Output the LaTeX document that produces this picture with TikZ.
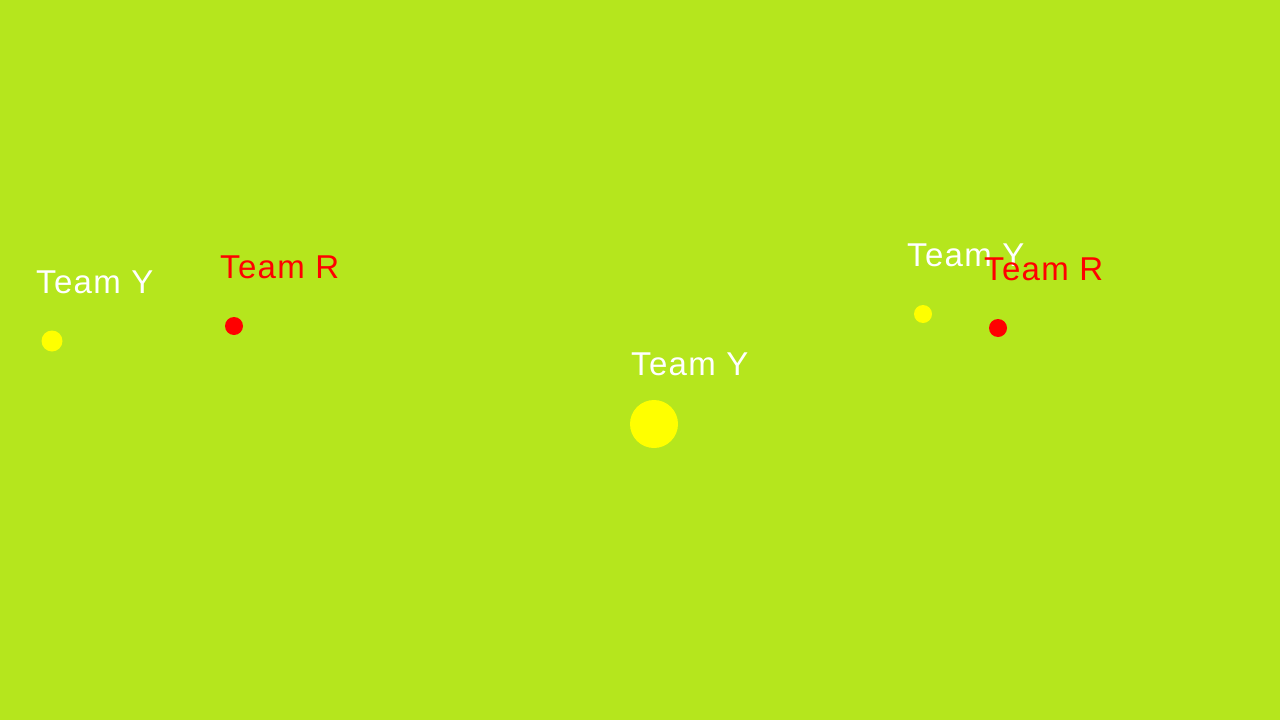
\documentclass[tikz,border=0pt]{standalone}
\usepackage{fontspec}
\setmainfont{Liberation Sans}[LetterSpace=4]
\definecolor{field}{RGB}{181,230,29}
\definecolor{teamyellow}{RGB}{255,255,0}
\definecolor{teamred}{RGB}{255,0,0}
\tikzset{
  lbl/.style={anchor=base west, inner sep=0pt, font=\fontsize{33}{40}\selectfont},
  ylbl/.style={lbl, text=white},
  rlbl/.style={lbl, text=teamred},
  dot/.style={circle, inner sep=0pt, minimum size=#1},
  ydot/.style={dot=#1, fill=teamyellow},
  rdot/.style={dot=#1, fill=teamred}
}
\begin{document}
\begin{tikzpicture}[x=1pt,y=-1pt]
\fill[field] (0,0) rectangle (1280,720);
\useasboundingbox (0,0) rectangle (1280,720);
\node[ylbl] (y1) at (36,293) {Team Y};
\node[ydot=21pt] (yd1) at (52,341) {};
\node[rlbl] (r1) at (220,278) {Team R};
\node[rdot=18pt] (rd1) at (234,326) {};
\node[ylbl] (y2) at (631,375) {Team Y};
\node[ydot=48pt] (yd2) at (654,424) {};
\node[ylbl] (y3) at (907,266) {Team Y};
\node[ydot=18pt] (yd3) at (923,314) {};
\node[rlbl] (r3) at (984,280) {Team R};
\node[rdot=18pt] (rd3) at (998,328) {};
\end{tikzpicture}
\end{document}
